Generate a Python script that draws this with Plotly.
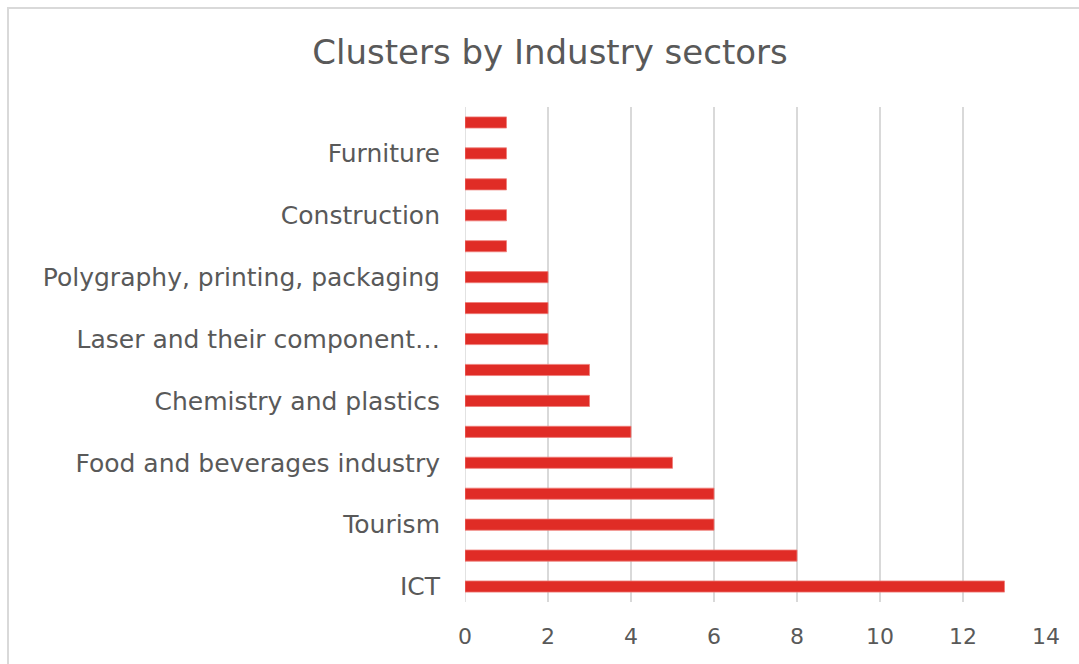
import plotly.graph_objects as go

categories = [
    "ICT", "Sector 2", "Tourism", "Sector 4", "Food and beverages industry",
    "Sector 6", "Chemistry and plastics", "Sector 8", "Laser and their component…",
    "Sector 10", "Polygraphy, printing, packaging", "Sector 12", "Construction",
    "Sector 14", "Furniture", "Sector 16",
]
values = [13, 8, 6, 6, 5, 4, 3, 3, 2, 2, 2, 1, 1, 1, 1, 1]
shown_labels = categories[::2]
x_ticks = [0, 2, 4, 6, 8, 10, 12, 14]

W, H = 1079, 664
ml, mr, mt, mb = 465, 33, 107, 62
pw, ph = W - ml - mr, H - mt - mb

fig = go.Figure(go.Bar(
    y=categories, x=values, orientation="h",
    marker=dict(color="#e02c26", line=dict(color="#ef7d79", width=0.8)),
    width=0.36,
))

font = "DejaVu Sans, sans-serif"
fig.update_layout(
    width=W, height=H,
    margin=dict(l=ml, r=mr, t=mt, b=mb),
    paper_bgcolor="white", plot_bgcolor="white",
    showlegend=False,
    title=dict(text="Clusters by Industry sectors", x=550 / W, xanchor="center",
               y=1 - 52 / H, yanchor="middle",
               font=dict(family=font, size=34, color="#595959")),
    font=dict(family=font, color="#595959"),
)
fig.update_xaxes(range=[0, 14], tickvals=x_ticks, showgrid=True, gridcolor="#d9d9d9",
                 gridwidth=1.5, zeroline=False, showline=False,
                 tickfont=dict(size=22, color="#595959"), ticks="", ticklabelstandoff=19)
fig.update_yaxes(categoryorder="array", categoryarray=categories,
                 tickmode="array", tickvals=shown_labels, ticktext=shown_labels,
                 showgrid=False, zeroline=False, showline=False, ticks="",
                 tickfont=dict(size=25, color="#595959"), ticklabelstandoff=24,
                 range=[-0.5, len(categories) - 0.5])
# left axis line (vertical gridline at 0)
fig.add_shape(type="line", xref="x", yref="paper", x0=0, x1=0, y0=0, y1=1,
              line=dict(color="#d9d9d9", width=1.5), layer="below")
# chart border
fig.add_shape(type="rect", xref="paper", yref="paper",
              x0=(8 - ml) / pw, x1=(W + 20 - ml) / pw,
              y0=-(mb + 20) / ph, y1=(ph + mt - 8) / ph,
              line=dict(color="#d9d9d9", width=2), fillcolor="rgba(0,0,0,0)")

fig.write_html("out.html")
